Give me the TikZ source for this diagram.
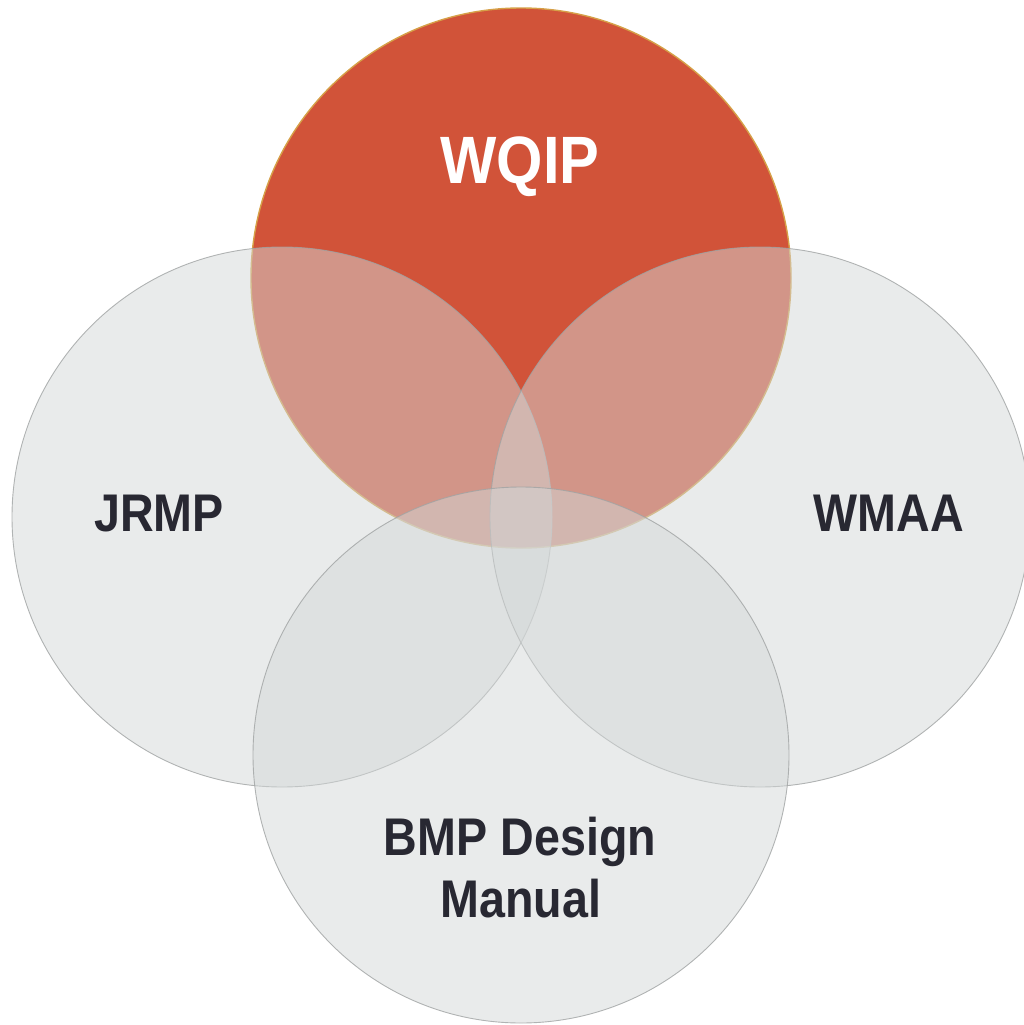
\documentclass[tikz,border=0pt]{standalone}
\usepackage{fontspec}
\setmainfont{Liberation Sans}
\definecolor{wqipred}{RGB}{209,83,57}
\definecolor{wqipedge}{RGB}{214,160,72}
\definecolor{graycirc}{RGB}{211,215,215}
\definecolor{grayedge}{RGB}{160,163,163}
\definecolor{labeltext}{RGB}{40,40,50}
\tikzset{
  redcirc/.style={circle, inner sep=0pt, minimum size=540pt, fill=wqipred, draw=wqipedge, line width=1.4pt},
  greycirc/.style={circle, inner sep=0pt, minimum size=540pt, fill=graycirc, fill opacity=0.5, draw=grayedge, draw opacity=0.8, line width=0.9pt},
  lbl/.style={anchor=base, inner sep=0pt, text=labeltext, font=\fontsize{53}{60}\selectfont\bfseries},
  toplbl/.style={anchor=base, inner sep=0pt, text=white, font=\fontsize{67}{75}\selectfont\bfseries}
}
\begin{document}
\begin{tikzpicture}[x=1pt,y=-1pt]
\useasboundingbox (0,0) rectangle (1023,1025);
\node[redcirc] (wqip) at (521,278) {};
\node[greycirc] (jrmp) at (282,517) {};
\node[greycirc] (wmaa) at (760,517) {};
\node[greycirc, minimum size=536pt] (bmp) at (521,755) {};
\node[toplbl] (twqip) at (520,183) {\scalebox{0.89}[1]{WQIP}};
\node[lbl] (tjrmp) at (159,531) {\scalebox{0.88}[1]{JRMP}};
\node[lbl] (twmaa) at (889,531) {\scalebox{0.88}[1]{WMAA}};
\node[lbl] (tbmp1) at (520,855) {\scalebox{0.88}[1]{BMP Design}};
\node[lbl] (tbmp2) at (521,917) {\scalebox{0.88}[1]{Manual}};
\end{tikzpicture}
\end{document}
